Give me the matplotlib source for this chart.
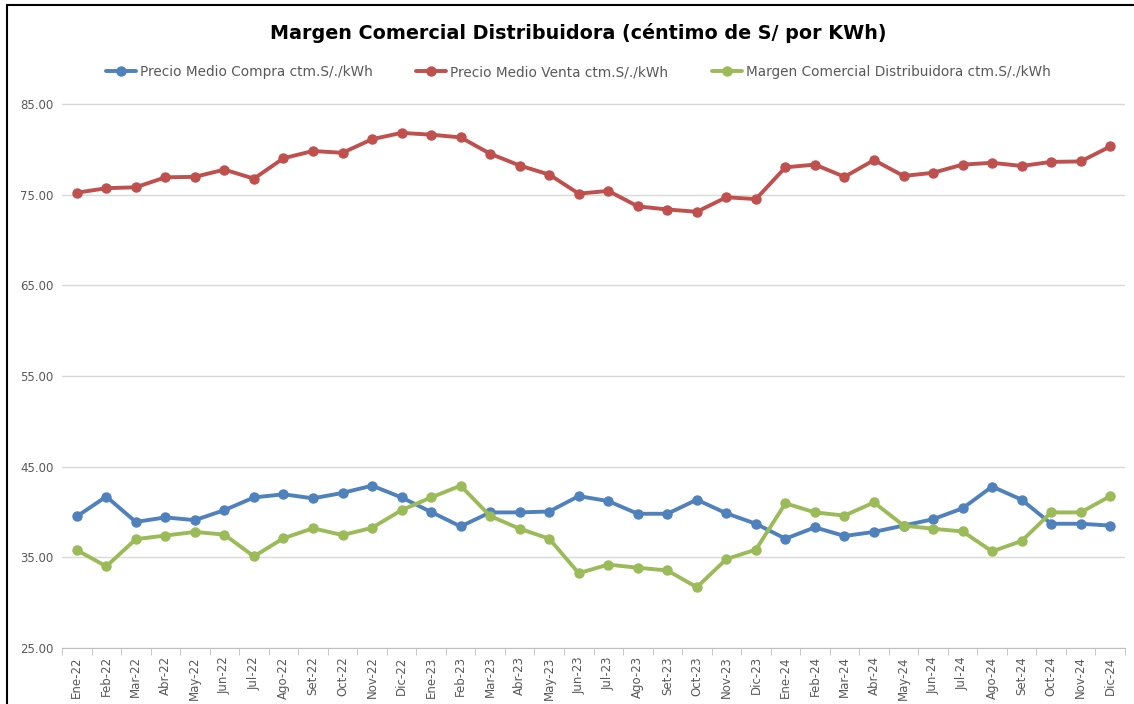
import numpy as np
import matplotlib
matplotlib.use("Agg")
import matplotlib.pyplot as plt
from matplotlib.patches import Rectangle

# Category labels (months)
meses = ["Ene", "Feb", "Mar", "Abr", "May", "Jun",
         "Jul", "Ago", "Set", "Oct", "Nov", "Dic"]
etiquetas = [f"{m}-{a}" for a in ("22", "23", "24") for m in meses]

# Series values (ctm. S/ per kWh)
precio_compra = [39.5, 41.7, 38.9, 39.4, 39.1, 40.2, 41.6, 41.95, 41.5, 42.1, 42.9, 41.6,
                 40.0, 38.4, 39.95, 39.95, 40.05, 41.75, 41.2, 39.8, 39.8, 41.35, 39.85, 38.7,
                 37.05, 38.3, 37.35, 37.8, 38.5, 39.2, 40.4, 42.8, 41.35, 38.7, 38.7, 38.5]
precio_venta = [75.2, 75.7, 75.8, 76.9, 76.95, 77.75, 76.75, 79.0, 79.8, 79.6, 81.1, 81.8,
                81.6, 81.3, 79.5, 78.2, 77.2, 75.1, 75.4, 73.7, 73.35, 73.1, 74.7, 74.5,
                78.0, 78.3, 76.95, 78.8, 77.05, 77.4, 78.3, 78.5, 78.15, 78.6, 78.65, 80.3]
margen = [35.8, 34.0, 37.0, 37.4, 37.8, 37.5, 35.1, 37.1, 38.2, 37.45, 38.25, 40.2,
          41.6, 42.9, 39.55, 38.15, 37.05, 33.25, 34.2, 33.85, 33.55, 31.7, 34.8, 35.85,
          40.95, 39.95, 39.6, 41.05, 38.5, 38.15, 37.85, 35.65, 36.8, 39.95, 39.95, 41.75]

series = [
    ("Precio Medio Compra ctm.S/./kWh", precio_compra, "#4F81BD"),
    ("Precio Medio Venta ctm.S/./kWh", precio_venta, "#C0504D"),
    ("Margen Comercial Distribuidora ctm.S/./kWh", margen, "#9BBB59"),
]

fig = plt.figure(figsize=(11.34, 7.04), dpi=100)
ax = fig.add_axes([62 / 1134, 56 / 704, (1125 - 62) / 1134, (648 - 58.5) / 704])

x = np.arange(len(etiquetas))
for nombre, valores, color in series:
    ax.plot(x, valores, color=color, lw=2.8, marker="o", markersize=6.5,
            label=nombre, solid_capstyle="round")

ax.set_xlim(-0.5, len(etiquetas) - 0.5)
ax.set_ylim(25, 90)
ax.set_yticks(np.arange(25, 86, 10))
ax.set_yticklabels([f"{v:.2f}" for v in np.arange(25, 86, 10)])
ax.yaxis.grid(True, color="#D9D9D9", lw=1)
ax.set_axisbelow(True)

ax.set_xticks(x)
ax.set_xticklabels(etiquetas, rotation=90)
ax.set_xticks(np.arange(-0.5, len(etiquetas)), minor=True)
ax.tick_params(axis="x", which="major", length=0, labelsize=8.5,
               labelcolor="#595959", pad=6)
ax.tick_params(axis="x", which="minor", length=5, color="#BFBFBF")
ax.tick_params(axis="y", length=0, labelsize=8.5, labelcolor="#595959", pad=6)

for lado in ("top", "right", "left"):
    ax.spines[lado].set_visible(False)
ax.spines["bottom"].set_color("#BFBFBF")

fig.text(0.51, 1 - 33 / 704, "Margen Comercial Distribuidora (céntimo de S/ por KWh)",
         ha="center", va="center", fontsize=13.8, fontweight="bold", color="black")

leg = fig.legend(loc="center", bbox_to_anchor=(0.51, 1 - 72 / 704), ncol=3,
                 frameon=False, fontsize=9.8, handlelength=2.2, columnspacing=3.2,
                 handletextpad=0.3)
for t in leg.get_texts():
    t.set_color("#595959")

# outer chart frame (bottom edge falls outside the picture)
fig.patches.append(Rectangle((7 / 1134, -0.05), 1.2, 1.05 - 5 / 704, transform=fig.transFigure,
                             fill=False, edgecolor="black", lw=1.5))

fig.savefig("out.png", dpi=100)
